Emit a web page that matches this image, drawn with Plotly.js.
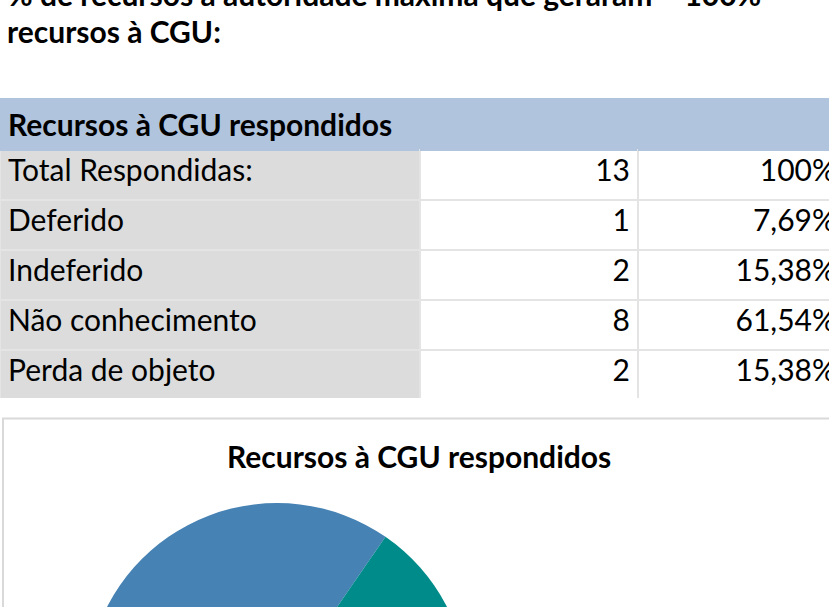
<!DOCTYPE html>
<html>
<head>
<meta charset="utf-8">
<script src="https://cdn.plot.ly/plotly-3.0.1.min.js"></script>
<style>
  html, body { margin: 0; padding: 0; overflow: hidden; background: #fff; }
  #chart { width: 860px; height: 900px; }
</style>
</head>
<body>
<div id="chart"></div>
<script>
// ---- data ----
const tableTitle = 'Recursos à CGU respondidos';
const rowLabels = ['Total Respondidas:', 'Deferido', 'Indeferido', 'Não conhecimento', 'Perda de objeto'];
const rowCounts = [13, 1, 2, 8, 2];
const rowPercents = ['100%', '7,69%', '15,38%', '61,54%', '15,38%'];

const pieLabels = ['Deferido', 'Indeferido', 'Não conhecimento', 'Perda de objeto'];
const pieValues = [1, 2, 8, 2];
const pieColors = ['#87CEEB', '#2E8B57', '#4682B4', '#008B8B'];

const introLine1 = '% de recursos à autoridade máxima que geraram – 100%';
const introLine2 = 'recursos à CGU:';
const chartTitle = 'Recursos à CGU respondidos';

// ---- layout helpers (pixel -> paper) ----
const W = 860, H = 900;
const fx = x => x / W;
const fy = y => 1 - y / H;
const FONT = 'Lato, "Open Sans", sans-serif';

const tableTrace = {
  type: 'table',
  domain: { x: [fx(0), fx(844)], y: [fy(398), fy(98)] },
  columnwidth: [420, 218, 206],
  header: {
    values: [['<b>' + tableTitle + '</b>'], [''], ['']],
    align: 'left',
    height: 50,
    fill: { color: '#B0C4DE' },
    line: { color: '#B0C4DE', width: 1 },
    font: { family: FONT, size: 30, color: '#000' }
  },
  cells: {
    values: [rowLabels, rowCounts, rowPercents],
    align: ['left', 'right', 'right'],
    height: 50,
    fill: { color: ['#DCDCDC', '#FFFFFF', '#FFFFFF'] },
    line: { color: '#E4E4E4', width: 2 },
    font: { family: FONT, size: 30, color: '#000' }
  }
};

const pieTrace = {
  type: 'pie',
  labels: pieLabels,
  values: pieValues,
  sort: false,
  direction: 'clockwise',
  rotation: 90,
  textinfo: 'none',
  hoverinfo: 'label+value+percent',
  marker: { colors: pieColors, line: { width: 0 } },
  domain: { x: [fx(86), fx(468)], y: [fy(885), fy(503)] },
  showlegend: false
};

const layout = {
  width: W,
  height: H,
  margin: { l: 0, r: 0, t: 0, b: 0 },
  paper_bgcolor: '#FFFFFF',
  showlegend: false,
  font: { family: FONT, color: '#000' },
  shapes: [
    { type: 'rect', xref: 'paper', yref: 'paper',
      x0: fx(3), x1: fx(1200), y0: fy(1200), y1: fy(418.5),
      line: { color: '#D9D9D9', width: 2 }, fillcolor: 'rgba(0,0,0,0)' }
  ],
  annotations: [
    { xref: 'paper', yref: 'paper', x: fx(6), y: fy(-6), xanchor: 'left', yanchor: 'middle',
      text: '<b>' + introLine1 + '</b>', showarrow: false, font: { family: FONT, size: 30, color: '#000' } },
    { xref: 'paper', yref: 'paper', x: fx(5), y: fy(31), xanchor: 'left', yanchor: 'middle',
      text: '<b>' + introLine2 + '</b>', showarrow: false, font: { family: FONT, size: 30, color: '#000' } },
    { xref: 'paper', yref: 'paper', x: fx(419), y: fy(456), xanchor: 'center', yanchor: 'middle',
      text: '<b>' + chartTitle + '</b>', showarrow: false, font: { family: FONT, size: 30, color: '#000' } }
  ]
};

Plotly.newPlot('chart', [tableTrace, pieTrace], layout, { staticPlot: true, displayModeBar: false });
</script>
</body>
</html>
